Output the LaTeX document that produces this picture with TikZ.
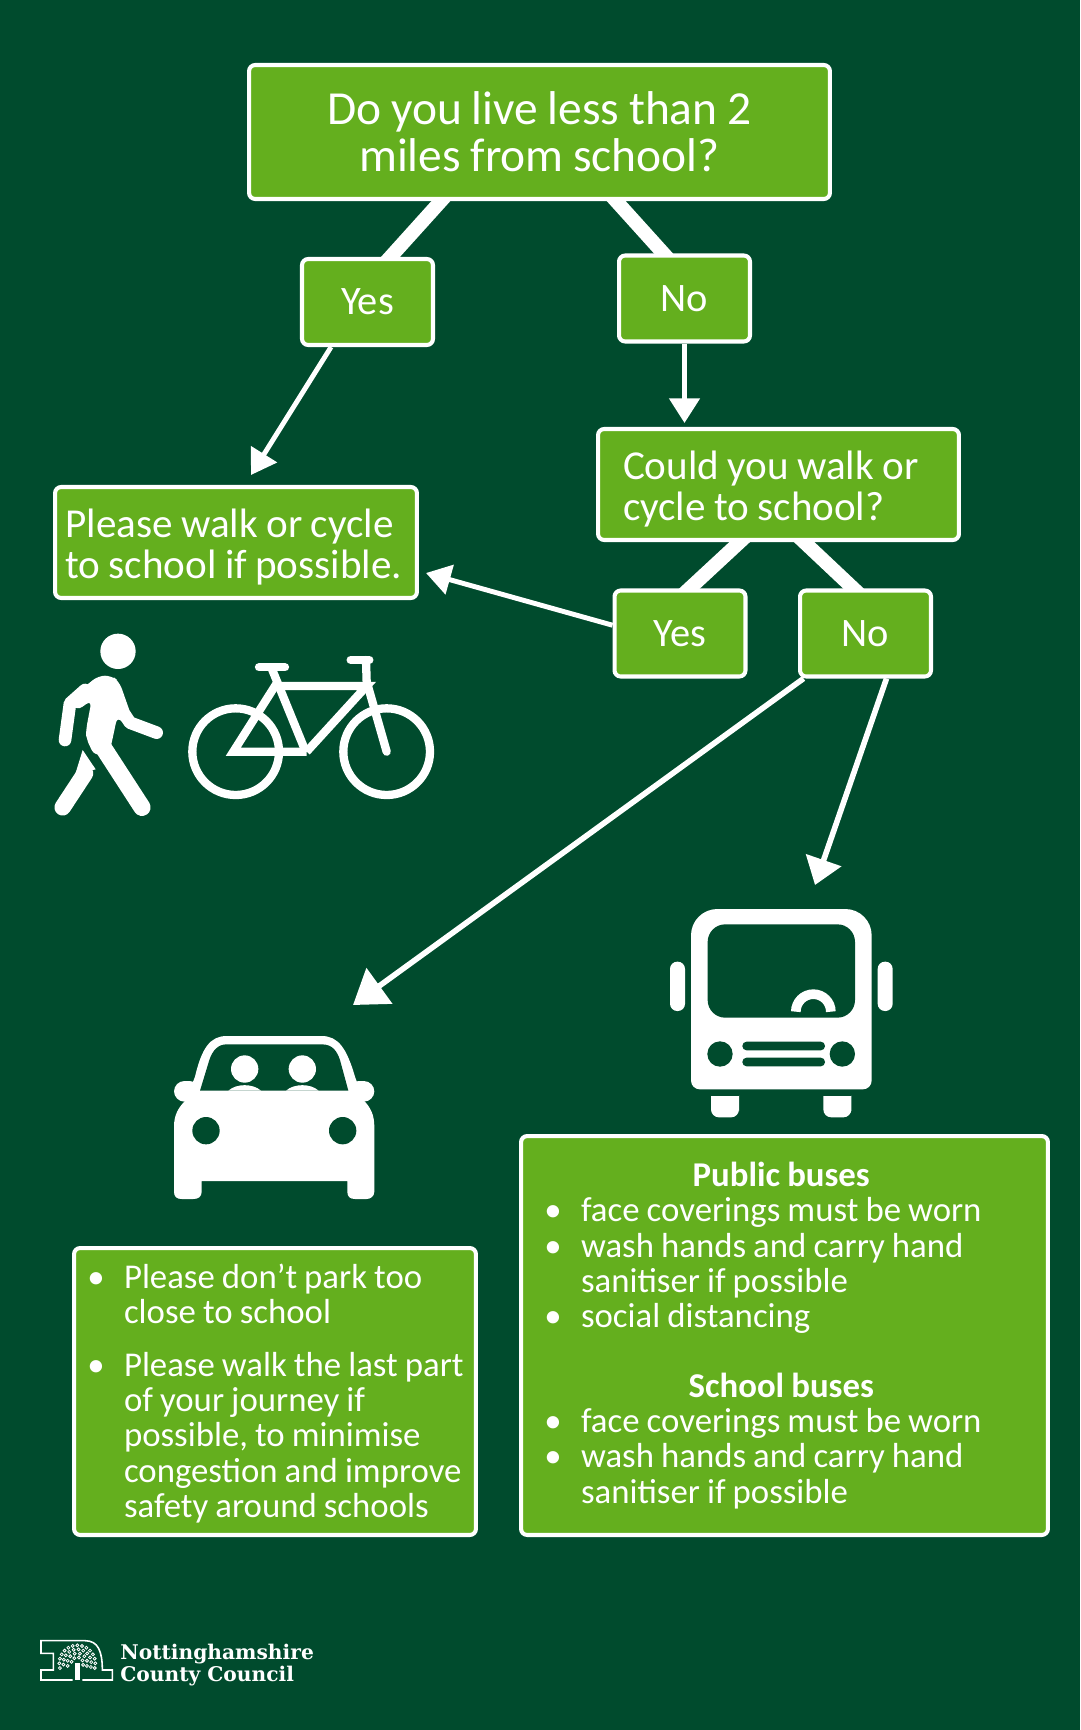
\documentclass[tikz,border=0pt]{standalone}
\usepackage{fontspec}
\setmainfont[WordSpace=0.9]{Carlito}
\newfontfamily\logofont{DejaVu Serif}
\usetikzlibrary{arrows.meta,backgrounds}
\definecolor{boardgreen}{RGB}{0,75,45}
\definecolor{boxgreen}{RGB}{100,175,30}
\newenvironment{boxlist}[2]{\begin{list}{\textbullet}{\setlength{\leftmargin}{#1}\setlength{\labelsep}{11pt}\setlength{\labelwidth}{10pt}\setlength{\topsep}{0pt}\setlength{\partopsep}{0pt}\setlength{\itemsep}{#2}\setlength{\parsep}{0pt}}}{\end{list}}

\begin{document}
\begin{tikzpicture}[x=0.02cm,y=-0.02cm,
  box/.style={draw=white,fill=boxgreen,text=white,line width=2.3pt,rounded corners=3.5pt,inner ysep=0pt},
  choice/.style={box,minimum width=2.62cm,minimum height=1.72cm,font=\fontsize{23}{23}\selectfont},
  bar/.style={white,line width=8pt,shorten <=-5pt,shorten >=-5pt},
  pointer/.style={white,line width=2.8pt,-{Triangle[length=14pt,width=17pt]}},
  buspointer/.style={white,line width=3.2pt,-{Triangle[length=15pt,width=20.7pt]}},
  carpointer/.style={white,line width=3.2pt,-{Triangle[length=18.6pt,width=24.5pt]}},
  bikeline/.style={white,line width=4.72pt},
  limb/.style={white,line cap=round,line join=round}]

\node[box,minimum width=11.62cm,minimum height=2.68cm,align=center,font=\fontsize{27}{26.6}\selectfont] (topbox) at (539.5,132) {Do you live less than 2\\miles from school?};
\node[choice] (yesa) at (367.5,302) {Yes};
\node[choice] (noa) at (684.5,298.5) {No};
\node[box,text width=6.22cm,inner xsep=0.5cm,minimum height=2.22cm,align=flush left,font=\fontsize{23.4}{23.2}\selectfont] (couldbox) at (778.5,484.5) {\rule{0pt}{21.5pt}Could you walk or\\cycle to school?};
\node[box,text width=6.82cm,inner xsep=0.21cm,minimum height=2.22cm,align=flush left,font=\fontsize{23.4}{23.2}\selectfont] (walkbox) at (236,542.5) {\rule{0pt}{21.5pt}Please walk or cycle\\to school if possible.};
\node[choice] (yesb) at (680,633.5) {Yes};
\node[choice] (nob) at (865.5,633.5) {No};

\node[box,text width=7.84cm,inner xsep=0.1cm,minimum height=5.74cm,align=flush left,font=\fontsize{19.8}{20}\selectfont] (carbox) at (275,1391.5) {%
\begin{boxlist}{0.9cm}{10pt}
\item Please don't park too\\close to school
\item Please walk the last part\\of your journey if\\possible, to minimise\\congestion and improve\\safety around schools
\end{boxlist}
\vspace{3.8pt}};
\node[box,text width=10.34cm,inner xsep=0.1cm,minimum height=7.98cm,align=flush left,font=\fontsize{19.8}{20}\selectfont] (busbox) at (784.5,1335.5) {%
{\centering\hspace*{-0.13cm}\bfseries Public buses\par}
\begin{boxlist}{1.1cm}{0pt}
\item face coverings must be worn
\item wash hands and carry hand\\sanitiser if possible
\item social distancing
\end{boxlist}
\vspace{20pt}
{\centering\hspace*{-0.13cm}\bfseries School buses\par}
\begin{boxlist}{1.1cm}{0pt}
\item face coverings must be worn
\item wash hands and carry hand\\sanitiser if possible
\end{boxlist}};

\coordinate (walkaim) at (251,475);
\coordinate (couldaim) at (684.5,423);
\coordinate (sideaim) at (426,573);
\coordinate (caraim) at (353,1005);
\coordinate (busaim) at (815,885);

\begin{pgfonlayer}{background}
\fill[boardgreen] (0,0) rectangle (1080,1730);
\draw[bar] (topbox.-145.4) -- (yesa.63.4);
\draw[bar] (topbox.-42) -- (noa.115.3);
\draw[bar] (couldbox.-124.5) -- (yesb.78.6);
\draw[bar] (couldbox.-66.9) -- (nob.105.7);
\end{pgfonlayer}
\draw[pointer] (yesa.-129) -- (walkaim);
\draw[pointer] (noa.south) -- (couldaim);
\draw[pointer] (yesb.173.6) -- (sideaim);
\draw[carpointer] (nob.-144.9) -- (caraim);
\draw[buspointer] (nob.-65.3) -- (busaim);

% walker
\begin{scope}[shift={(30,610)},scale=1/3]
\fill[white] (264,124) circle (53);
\fill[white,rounded corners=4pt] (205,197) -- (245,197) -- (268,215) -- (305,320) -- (285,347) -- (262,318) -- (248,385) -- (240,420) -- (195,440) -- (168,385) -- (168,360) -- (185,270) -- (140,303) -- (115,270) -- cycle;
\draw[limb,line width=7.2pt] (165,240) -- (120,280) -- (105,390);
\draw[limb,line width=7.2pt] (285,315) -- (300,338) -- (380,368);
\draw[limb,line width=9.8pt] (205,390) -- (336,592);
\fill[white] (158,420) -- (197,478) -- (135,495) -- cycle;
\draw[limb,line width=9.4pt] (165,490) -- (98,592);
\end{scope}

% bike
\begin{scope}[shift={(30,610)},scale=1/3]
\draw[bikeline] (617,425) circle (130);
\draw[bikeline] (1070,425) circle (130);
\draw[bikeline,line join=miter] (830,425) -- (610,425) -- (735,228) -- (1010,228) -- (830,425);
\draw[bikeline] (725,175) -- (825,420);
\draw[bikeline,line cap=round] (1008,150) -- (1010,215) -- (1070,425);
\draw[bikeline,line cap=round] (962,150) -- (1018,150);
\draw[bikeline,line cap=round] (687,172) -- (765,172);
\end{scope}

% bus
\begin{scope}[shift={(650,890)},scale=1/3]
\fill[white,rounded corners=15pt] (123,300) -- (123,57) -- (665,57) -- (665,300) [rounded corners=5pt] -- (665,598) -- (123,598) -- cycle;
\fill[boardgreen,rounded corners=10pt] (173,103) rectangle (615,383);
\draw[white,line width=5.5pt] (437.5,365) arc[start angle=180,end angle=360,radius=52.5];
\foreach \x in {60,683} \fill[white,rounded corners=4.1pt] (\x,215) rectangle (\x+45,363);
\foreach \x in {210,577} \fill[boardgreen] (\x,492) circle (38);
\foreach \y in {455,503} \fill[boardgreen,rounded corners=2.4pt] (277,\y) rectangle (525,\y+26);
\foreach \x in {183,520} \fill[white,rounded corners=4.5pt] (\x,640) -- (\x,682) -- (\x+84,682) -- (\x+84,640) [sharp corners] -- (\x+84,618) -- (\x,618) -- cycle;
\end{scope}

% car
\begin{scope}[shift={(160,1020)},scale=1/3]
\fill[white] (78,240) -- (105,170) .. controls (125,85) and (150,48) .. (200,48) -- (485,48) .. controls (535,48) and (560,85) .. (585,170) -- (610,240) .. controls (632,262) and (643,285) .. (643,320) -- (643,515) .. controls (643,530) and (630,537) .. (620,537) -- (585,537) .. controls (570,537) and (562,530) .. (562,515) -- (562,483) -- (125,483) -- (125,515) .. controls (125,530) and (115,537) .. (100,537) -- (65,537) .. controls (50,537) and (42,530) .. (42,515) -- (42,320) .. controls (42,285) and (55,262) .. (78,240) -- cycle;
\foreach \x in {42,565} \fill[white,rounded corners=6pt] (\x,183) rectangle (\x+78,245);
\fill[boardgreen] (120,212) -- (148,120) .. controls (158,90) and (175,73) .. (200,73) -- (485,73) .. controls (515,73) and (530,90) .. (540,120) -- (565,212) -- cycle;
\foreach \x in {254,427} {
  \fill[white] (\x,147) circle (41);
  \fill[white] (\x-49,212) .. controls (\x-25,190) and (\x+25,190) .. (\x+49,212) -- cycle;
}
\foreach \x in {138,548} \fill[boardgreen] (\x,332) circle (41);
\end{scope}

% logo
\begin{scope}[shift={(20,1620)},scale=1/3]
\draw[white,line width=0.9pt] (158,180) -- (63,180) -- (63,150) -- (100,150) -- (100,100) -- (63,100) -- (63,62) -- (195,62) .. controls (235,62) and (247,95) .. (247,150) -- (277,150) -- (277,180) -- (187,180);
\foreach \r/\s in {18/45,30/30,42/20,54/15} \foreach \a in {-15,\numexpr-15+\s\relax,...,195} \draw[white,line width=0.45pt] ({172+\r*cos(\a)},{130-\r*sin(\a)}) circle (4.5);
\fill[white] (165,130) rectangle (179,180);
\end{scope}
\node[anchor=west,inner sep=0pt,text=white,align=left,font=\logofont\bfseries\fontsize{11.5}{13}\selectfont] (logotext) at (120,1665) {Nottinghamshire\\County Council};
\end{tikzpicture}
\end{document}
